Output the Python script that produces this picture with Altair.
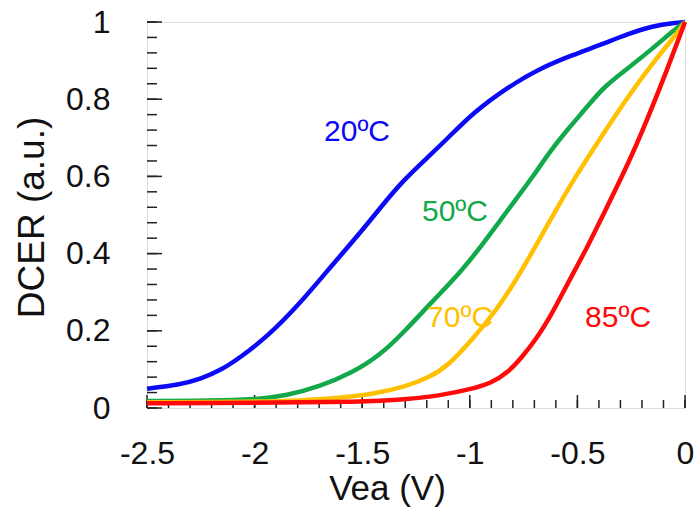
import altair as alt
import pandas as pd

# ---- data ----
x20 = [-2.5, -2.35, -2.25, -2.15, -2.07, -1.94, -1.79, -1.64, -1.5, -1.40, -1.3, -1.185, -1.1,
       -0.985, -0.827, -0.674, -0.52, -0.395, -0.27, -0.149, -0.05, 0.0]
y20 = [0.05, 0.06, 0.075, 0.1, 0.13, 0.185, 0.27, 0.37, 0.46, 0.53, 0.595, 0.655, 0.7,
       0.765, 0.83, 0.88, 0.915, 0.94, 0.968, 0.99, 0.998, 1.0]

x50 = [-2.5, -2.2, -2.0, -1.85, -1.7, -1.55, -1.42, -1.3, -1.185, -1.045, -0.939, -0.86,
       -0.78, -0.706, -0.627, -0.548, -0.455, -0.381, -0.27, -0.149, -0.05, 0.0]
y50 = [0.018, 0.019, 0.022, 0.032, 0.055, 0.09, 0.135, 0.2, 0.27, 0.35, 0.425, 0.485,
       0.545, 0.6, 0.665, 0.72, 0.78, 0.83, 0.878, 0.932, 0.98, 1.0]

x70 = [-2.5, -2.0, -1.8, -1.6, -1.45, -1.3, -1.185, -1.1, -0.985, -0.874, -0.781, -0.688,
       -0.613, -0.52, -0.381, -0.255, -0.13, -0.03, 0.0]
y70 = [0.015, 0.016, 0.019, 0.026, 0.036, 0.055, 0.08, 0.11, 0.18, 0.255, 0.335, 0.425,
       0.5, 0.59, 0.71, 0.815, 0.908, 0.975, 1.0]

x85 = [-2.5, -2.0, -1.5, -1.3, -1.138, -0.985, -0.9, -0.827, -0.76, -0.69, -0.627, -0.548,
       -0.455, -0.381, -0.27, -0.177, -0.084, 0.0]
y85 = [0.012, 0.013, 0.016, 0.022, 0.032, 0.05, 0.065, 0.09, 0.13, 0.18, 0.235, 0.32,
       0.415, 0.5, 0.625, 0.745, 0.875, 1.0]

series = ["20ºC", "50ºC", "70ºC", "85ºC"]
line_colors = ["#0a0af5", "#12a94a", "#ffc000", "#ff0a0a"]
text_colors = ["#2b2bdc", "#3a9c70", "#f2c24a", "#e3304a"]
label_x = [-1.524, -1.069, -1.045, -0.311]
label_y = [0.715, 0.508, 0.233, 0.233]

x_major = [-2.5, -2.0, -1.5, -1.0, -0.5, 0.0]
x_minor = [round(-2.5 + 0.1 * i, 2) for i in range(26)]
y_major = [0.0, 0.2, 0.4, 0.6, 0.8, 1.0]
y_minor = [round(0.04 * i, 2) for i in range(26)]

# ---- tables ----
rows = []
for name, xs, ys in zip(series, [x20, x50, x70, x85], [y20, y50, y70, y85]):
    for i, (a, b) in enumerate(zip(xs, ys)):
        rows.append({"series": name, "x": a, "y": b, "order": i})
df = pd.DataFrame(rows)
lab = pd.DataFrame({"series": series, "x": label_x, "y": label_y})

W, H = 538, 386
FONT = "Liberation Sans"
MINUS = "replace(format(datum.value, '~g'), '\u2212', '-')"

xscale = alt.Scale(domain=[-2.5, 0], nice=False, zero=False)
yscale = alt.Scale(domain=[0, 1], nice=False)

xaxis = alt.Axis(values=x_major, labelExpr=MINUS, ticks=False, domain=False, grid=False,
                 labelFont=FONT, labelFontSize=32, labelColor="#111", labelPadding=30,
                 labelFlush=False, title="Vea (V)", titleFont=FONT, titleFontSize=35,
                 titleFontWeight="normal", titleColor="#111", titleX=240, titleY=91,
                 titleBaseline="alphabetic", titleAnchor="middle")
yaxis = alt.Axis(values=y_major, labelExpr=MINUS, ticks=False, domain=False, grid=False,
                 labelFont=FONT, labelFontSize=32, labelColor="#111", labelPadding=37,
                 labelFlush=False, title="DCER (a.u.)", titleFont=FONT, titleFontSize=37,
                 titleFontWeight="normal", titleColor="#111", titleX=-104, titleY=195,
                 titleBaseline="alphabetic", titleAnchor="middle")

cscale = alt.Scale(domain=series, range=line_colors)
tscale = alt.Scale(domain=series, range=text_colors)

lines = alt.Chart(df).mark_line(strokeWidth=4.5, interpolate="basis").encode(
    x=alt.X("x:Q", scale=xscale, axis=xaxis),
    y=alt.Y("y:Q", scale=yscale, axis=yaxis),
    color=alt.Color("series:N", scale=cscale, legend=None),
    order="order:Q",
)

labels = alt.Chart(lab).mark_text(font=FONT, fontSize=30, align="center", baseline="middle").encode(
    x=alt.X("x:Q", scale=xscale),
    y=alt.Y("y:Q", scale=yscale),
    text="series:N",
    color=alt.Color("series:N", scale=tscale, legend=None),
)

xmin_df = pd.DataFrame({"v": x_minor})
xmaj_df = pd.DataFrame({"v": x_major})
ymin_df = pd.DataFrame({"v": y_minor})
ymaj_df = pd.DataFrame({"v": y_major})

xt_minor = alt.Chart(xmin_df).mark_rule(color="#222", strokeWidth=1.5).encode(
    x=alt.X("v:Q", scale=xscale), y=alt.value(H), y2=alt.value(H - 8))
xt_major = alt.Chart(xmaj_df).mark_rule(color="#222", strokeWidth=1.5).encode(
    x=alt.X("v:Q", scale=xscale), y=alt.value(H), y2=alt.value(H - 13))
yt_minor = alt.Chart(ymin_df).mark_rule(color="#222", strokeWidth=1.5).encode(
    y=alt.Y("v:Q", scale=yscale), x=alt.value(0), x2=alt.value(10))
yt_major = alt.Chart(ymaj_df).mark_rule(color="#222", strokeWidth=1.5).encode(
    y=alt.Y("v:Q", scale=yscale), x=alt.value(0), x2=alt.value(15))

chart = alt.layer(xt_minor, xt_major, yt_minor, yt_major, lines, labels).properties(
    width=W, height=H,
    autosize="none",
    padding={"left": 147, "top": 22, "right": 10, "bottom": 109},
).configure_view(stroke="#222", strokeWidth=2).configure(background="white")

chart.save("out.html", embed_options={"renderer": "svg", "actions": False})
